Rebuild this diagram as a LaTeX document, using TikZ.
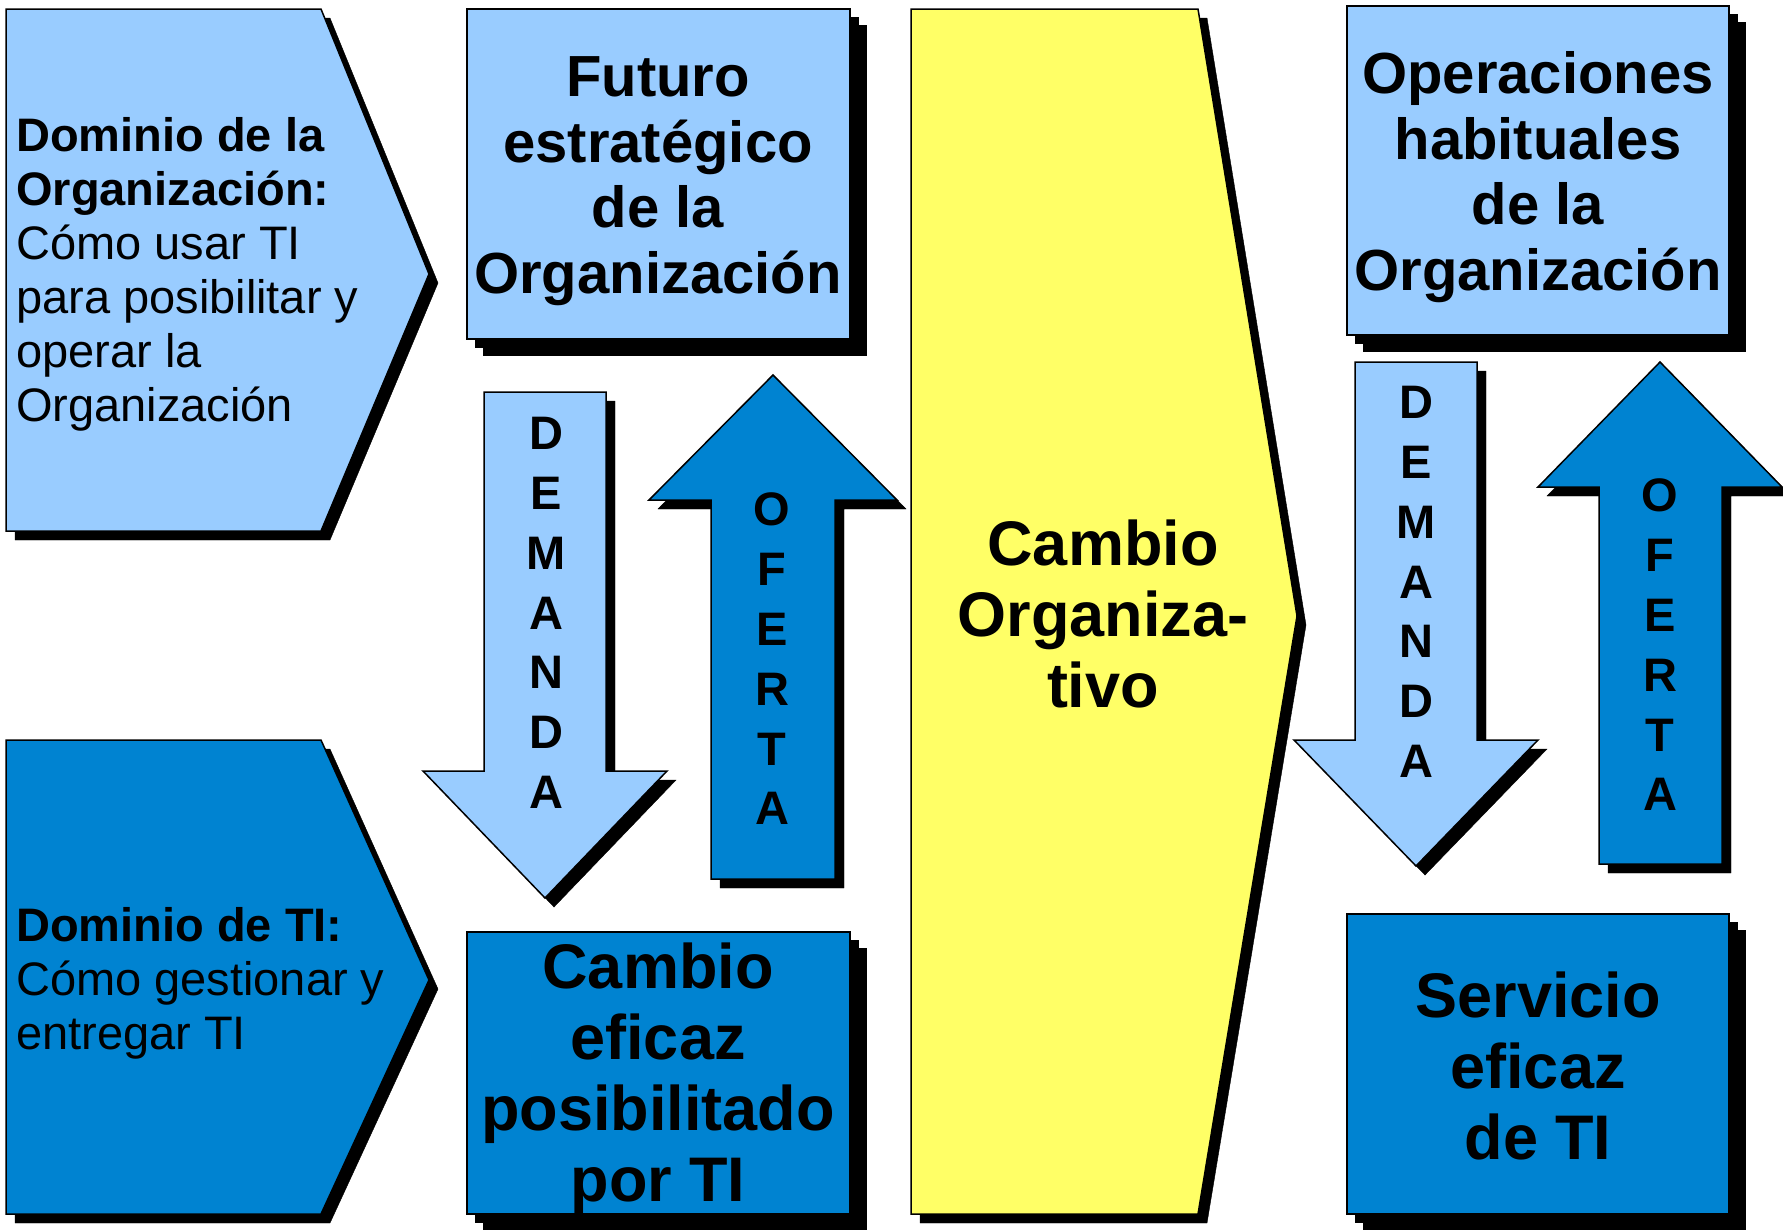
\documentclass[tikz,border=0pt]{standalone}
\usepackage{fontspec}
\setmainfont{Liberation Sans}
\usetikzlibrary{shadows}
\definecolor{celeste}{HTML}{99CCFF}
\definecolor{azul}{HTML}{0083D1}
\definecolor{amarillo}{HTML}{FFFF66}
\tikzset{
  sombra/.style={
    copy shadow={shadow xshift=9pt,shadow yshift=-9pt,fill=black,draw=black}},
  sombradoble/.style={
    copy shadow={shadow xshift=16pt,shadow yshift=-16pt,fill=black,draw=black},
    copy shadow={shadow xshift=8pt,shadow yshift=-8pt,fill=black,draw=black}},
  forma/.style={draw,line width=1.5pt,sombra},
  caja/.style={draw,line width=1.5pt,sombradoble},
  titulo/.style={font=\fontsize{58}{65.5}\selectfont\bfseries,align=center,inner sep=0pt},
  titulog/.style={font=\fontsize{63}{71}\selectfont\bfseries,align=center,inner sep=0pt},
  dominio/.style={font=\fontsize{47}{54}\selectfont,align=left,inner sep=0pt,anchor=west},
  letras/.style={font=\fontsize{47}{59.8}\selectfont\bfseries,align=center,inner sep=0pt},
}

\begin{document}
\begin{tikzpicture}[x=1pt,y=-1pt]
  \useasboundingbox (0,0) rectangle (1783,1229);
  % dominios
  \draw[forma,fill=celeste] (6,9) -- (321,9) -- (429,274) -- (321,531) -- (6,531) -- cycle;
  \node[dominio] (domorg) at (16,274) {\textbf{Dominio de la}\\\textbf{Organización:}\\Cómo usar TI\\para posibilitar y\\operar la\\Organización};
  \draw[forma,fill=azul] (6,740) -- (321,740) -- (429,980) -- (321,1214) -- (6,1214) -- cycle;
  \node[dominio] (domti) at (16,983) {\textbf{Dominio de TI:}\\Cómo gestionar y\\entregar TI};

  % columna izquierda
  \draw[caja,fill=celeste] (467,9) rectangle (850,339);
  \node[titulo] (futuro) at (658,181) {Futuro\\estratégico\\de la\\Organización};
  \draw[forma,fill=celeste] (484,392) -- (606,392) -- (606,771) -- (667,771) -- (545,898) -- (423,771) -- (484,771) -- cycle;
  \node[letras] (dem1) at (546,613) {D\\E\\M\\A\\N\\D\\A};
  \draw[forma,fill=azul] (773,375) -- (897,500) -- (835,500) -- (835,879) -- (711,879) -- (711,500) -- (649,500) -- cycle;
  \node[letras] (ofe1) at (772,659) {O\\F\\E\\R\\T\\A};
  \draw[caja,fill=azul] (467,932) rectangle (850,1214);
  \node[titulog] (cambioti) at (658,1079) {Cambio\\eficaz\\posibilitado\\por TI};

  % cambio
  \draw[forma,fill=amarillo] (911,9) -- (1198,9) -- (1297,616) -- (1198,1214) -- (911,1214) -- cycle;
  \node[titulog] (cambio) at (1103,614) {Cambio\\Organiza-\\tivo};

  % columna derecha
  \draw[caja,fill=celeste] (1347,6) rectangle (1729,335);
  \node[titulo] (operac) at (1538,177) {Operaciones\\habituales\\de la\\Organización};
  \draw[forma,fill=celeste] (1355,362) -- (1477,362) -- (1477,740) -- (1538,740) -- (1416,866) -- (1294,740) -- (1355,740) -- cycle;
  \node[letras] (dem2) at (1416,582) {D\\E\\M\\A\\N\\D\\A};
  \draw[forma,fill=azul] (1660,362) -- (1782,487) -- (1722,487) -- (1722,864) -- (1599,864) -- (1599,487) -- (1538,487) -- cycle;
  \node[letras] (ofe2) at (1660,645) {O\\F\\E\\R\\T\\A};
  \draw[caja,fill=azul] (1347,914) rectangle (1729,1214);
  \node[titulog] (servicio) at (1538,1066) {Servicio\\eficaz\\de TI};
\end{tikzpicture}
\end{document}
